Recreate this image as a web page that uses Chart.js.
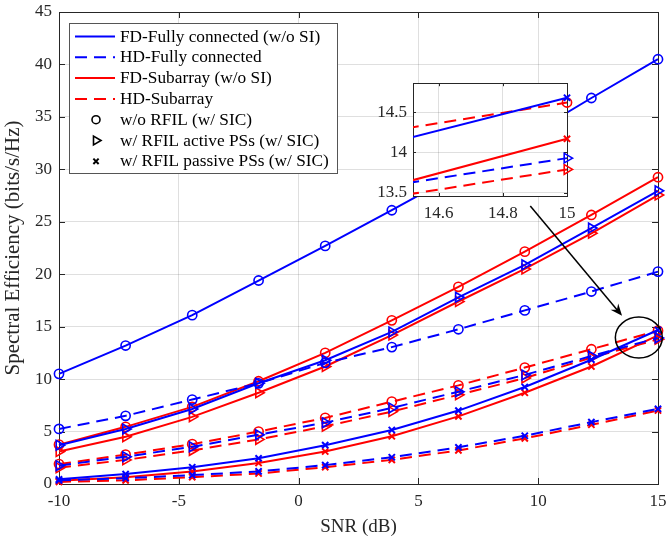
<!DOCTYPE html>
<html>
<head>
<meta charset="utf-8">
<script src="https://cdn.jsdelivr.net/npm/chart.js@4.4.1/dist/chart.umd.min.js"></script>
<style>
  html, body { margin: 0; padding: 0; background: #fff; }
  #wrap { position: relative; width: 667px; height: 543px; }
  #mainChart { position: absolute; left: 0; top: 0; }
  #insetChart { position: absolute; left: 366px; top: 76px; }
</style>
</head>
<body>
<div id="wrap">
  <canvas id="mainChart" width="667" height="543"></canvas>
  <canvas id="insetChart" width="212" height="160"></canvas>
</div>
<script>
// SNR sample points (dB)
const snr = [-10, -7.22, -4.44, -1.67, 1.11, 3.89, 6.67, 9.44, 12.22, 15];

// spectral efficiency (bits/s/Hz)
const fdFullNoRfil  = [10.5, 13.2, 16.1, 19.4, 22.7, 26.1, 29.6, 33.0, 36.8, 40.5];
const fdFullActive  = [3.7, 5.25, 7.15, 9.6, 11.8, 14.5, 17.8, 20.9, 24.4, 27.95];
const fdFullPassive = [0.45, 0.95, 1.6, 2.45, 3.7, 5.15, 7.0, 9.25, 11.85, 14.68];
const hdFullNoRfil  = [5.25, 6.5, 8.05, 9.6, 11.55, 13.05, 14.75, 16.55, 18.35, 20.25];
const hdFullActive  = [1.75, 2.6, 3.55, 4.7, 5.85, 7.25, 8.8, 10.4, 12.2, 13.93];
const hdFullPassive = [0.35, 0.55, 0.85, 1.2, 1.8, 2.55, 3.5, 4.6, 5.9, 7.17];
const fdSubNoRfil   = [3.75, 5.45, 7.35, 9.8, 12.5, 15.6, 18.8, 22.15, 25.65, 29.25];
const fdSubActive   = [3.1, 4.5, 6.4, 8.7, 11.2, 14.2, 17.4, 20.5, 23.9, 27.55];
const fdSubPassive  = [0.3, 0.65, 1.2, 2.0, 3.1, 4.55, 6.45, 8.7, 11.2, 14.17];
const hdSubNoRfil   = [1.9, 2.8, 3.8, 5.0, 6.3, 7.85, 9.4, 11.1, 12.85, 14.62];
const hdSubActive   = [1.55, 2.3, 3.2, 4.25, 5.5, 6.9, 8.5, 10.1, 12.05, 13.79];
const hdSubPassive  = [0.2, 0.35, 0.65, 1.0, 1.6, 2.3, 3.2, 4.35, 5.65, 7.01];

const legendLabels = [
  "FD-Fully connected (w/o SI)",
  "HD-Fully connected",
  "FD-Subarray (w/o SI)",
  "HD-Subarray",
  "w/o RFIL (w/ SIC)",
  "w/ RFIL active PSs (w/ SIC)",
  "w/ RFIL passive PSs (w/ SIC)"
];

const xTicks = [-10, -5, 0, 5, 10, 15];
const yTicks = [0, 5, 10, 15, 20, 25, 30, 35, 40, 45];
const insetXTicks = [14.6, 14.8, 15];
const insetYTicks = [13.5, 14, 14.5];

// arch: 0 FD-full, 1 HD-full, 2 FD-sub, 3 HD-sub ; mark: 0 w/o RFIL, 1 active, 2 passive
const series = [
  { values: fdFullNoRfil, arch: 0, mark: 0 },
  { values: fdFullActive, arch: 0, mark: 1 },
  { values: fdFullPassive, arch: 0, mark: 2 },
  { values: hdFullNoRfil, arch: 1, mark: 0 },
  { values: hdFullActive, arch: 1, mark: 1 },
  { values: hdFullPassive, arch: 1, mark: 2 },
  { values: fdSubNoRfil, arch: 2, mark: 0 },
  { values: fdSubActive, arch: 2, mark: 1 },
  { values: fdSubPassive, arch: 2, mark: 2 },
  { values: hdSubNoRfil, arch: 3, mark: 0 },
  { values: hdSubActive, arch: 3, mark: 1 },
  { values: hdSubPassive, arch: 3, mark: 2 }
];

const BLUE = "#0000ff";
const RED = "#ff0000";
const DASH = [12, 7];
const archStyle = [
  { color: BLUE, dash: [] },
  { color: BLUE, dash: DASH },
  { color: RED, dash: [] },
  { color: RED, dash: DASH }
];
const markStyle = [
  { pointStyle: "circle", radius: 4.6, rotation: 0, width: 1.6 },
  { pointStyle: "triangle", radius: 5.6, rotation: 90, width: 1.6 },
  { pointStyle: "crossRot", radius: 4.4, rotation: 0, width: 2 }
];

const FONT = "'Liberation Serif', 'Times New Roman', serif";
const AXIS_COLOR = "#262626";
const GRID_COLOR = "rgba(38,38,38,0.15)";

function makeDatasets(clip) {
  return series.map(s => {
    const a = archStyle[s.arch];
    const m = markStyle[s.mark];
    return {
      data: snr.map((x, i) => ({ x: x, y: s.values[i] })),
      borderColor: a.color,
      borderWidth: 2,
      borderDash: a.dash,
      pointStyle: m.pointStyle,
      pointRadius: m.radius,
      pointRotation: m.rotation,
      pointBorderWidth: m.width,
      pointBorderColor: a.color,
      pointBackgroundColor: "rgba(0,0,0,0)",
      tension: 0,
      fill: false,
      clip: clip
    };
  });
}

// no extra label padding, layout padding decides the plot box
function noPadX(s, h) { s.height = h; s.paddingLeft = 0; s.paddingRight = 0; }
function noPadY(s, w) { s.width = w; s.paddingTop = 0; s.paddingBottom = 0; }

// box around plot area with inward ticks (matlab look)
function frameAndTicks(chart, len) {
  const ctx = chart.ctx;
  const a = chart.chartArea;
  const xs = chart.scales.x, ys = chart.scales.y;
  ctx.save();
  ctx.strokeStyle = AXIS_COLOR;
  ctx.lineWidth = 1;
  ctx.setLineDash([]);
  ctx.strokeRect(Math.round(a.left) + 0.5, Math.round(a.top) + 0.5,
    Math.round(a.right - a.left), Math.round(a.bottom - a.top));
  ctx.beginPath();
  xs.ticks.forEach(t => {
    const px = Math.round(xs.getPixelForValue(t.value)) + 0.5;
    ctx.moveTo(px, a.bottom); ctx.lineTo(px, a.bottom - len);
    ctx.moveTo(px, a.top); ctx.lineTo(px, a.top + len);
  });
  ys.ticks.forEach(t => {
    const py = Math.round(ys.getPixelForValue(t.value)) + 0.5;
    ctx.moveTo(a.left, py); ctx.lineTo(a.left + len, py);
    ctx.moveTo(a.right, py); ctx.lineTo(a.right - len, py);
  });
  ctx.stroke();
  ctx.restore();
}

const mainFrame = {
  id: "mainFrame",
  beforeDatasetsDraw(chart) { frameAndTicks(chart, 6); }
};

// zoom marker: ellipse around the 15 dB cluster and arrow from the inset
const zoomMark = { cx: 14.2, cy: 13.96, rx: 0.98, ry: 1.95, fromX: 9.67, fromY: 26.5, toX: 13.5, toY: 16.03 };

const annotations = {
  id: "annotations",
  afterDraw(chart) {
    const ctx = chart.ctx;
    const xs = chart.scales.x, ys = chart.scales.y;
    ctx.save();
    ctx.strokeStyle = "#000";
    ctx.fillStyle = "#000";
    ctx.lineWidth = 1.5;
    ctx.setLineDash([]);
    const cx = xs.getPixelForValue(zoomMark.cx), cy = ys.getPixelForValue(zoomMark.cy);
    const rx = xs.getPixelForValue(zoomMark.cx + zoomMark.rx) - cx;
    const ry = cy - ys.getPixelForValue(zoomMark.cy + zoomMark.ry);
    ctx.beginPath();
    ctx.ellipse(cx, cy, rx, ry, 0, 0, Math.PI * 2);
    ctx.stroke();

    const x0 = xs.getPixelForValue(zoomMark.fromX), y0 = ys.getPixelForValue(zoomMark.fromY);
    const x1 = xs.getPixelForValue(zoomMark.toX), y1 = ys.getPixelForValue(zoomMark.toY);
    const ang = Math.atan2(y1 - y0, x1 - x0);
    const hl = 12, hw = 5;
    const bx = x1 - Math.cos(ang) * hl, by = y1 - Math.sin(ang) * hl;
    ctx.beginPath();
    ctx.moveTo(x0, y0);
    ctx.lineTo(x1 - Math.cos(ang) * 4, y1 - Math.sin(ang) * 4);
    ctx.stroke();
    ctx.beginPath();
    ctx.moveTo(x1, y1);
    ctx.lineTo(bx - Math.sin(ang) * hw, by + Math.cos(ang) * hw);
    ctx.lineTo(x1 - Math.cos(ang) * 8, y1 - Math.sin(ang) * 8);
    ctx.lineTo(bx + Math.sin(ang) * hw, by - Math.cos(ang) * hw);
    ctx.closePath();
    ctx.fill();

    // legend box
    const L = chart.chartArea.left, T = chart.chartArea.top;
    const box = { x: L + 10, y: T + 11, w: 268, h: 150 };
    ctx.fillStyle = "#fff";
    ctx.fillRect(box.x, box.y, box.w, box.h);
    ctx.strokeStyle = "#555";
    ctx.lineWidth = 1;
    ctx.strokeRect(Math.round(box.x) + 0.5, Math.round(box.y) + 0.5, box.w, box.h);
    ctx.font = "17.3px " + FONT;
    ctx.textBaseline = "middle";
    ctx.textAlign = "left";
    const rowH = 20.8;
    legendLabels.forEach((label, i) => {
      const y = box.y + 13.5 + i * rowH;
      if (i < 4) {
        const st = archStyle[i];
        ctx.strokeStyle = st.color;
        ctx.lineWidth = 2;
        ctx.setLineDash(st.dash);
        ctx.beginPath();
        ctx.moveTo(box.x + 6, y);
        ctx.lineTo(box.x + 46, y);
        ctx.stroke();
        ctx.setLineDash([]);
      } else {
        const m = markStyle[i - 4];
        const mx = box.x + 27;
        ctx.strokeStyle = "#000";
        ctx.lineWidth = m.width;
        ctx.beginPath();
        if (m.pointStyle === "circle") {
          ctx.arc(mx, y, m.radius - 0.6, 0, Math.PI * 2);
        } else if (m.pointStyle === "triangle") {
          const r = m.radius - 0.6;
          ctx.moveTo(mx + r, y);
          ctx.lineTo(mx - r / 2, y - r * 0.866);
          ctx.lineTo(mx - r / 2, y + r * 0.866);
          ctx.closePath();
        } else {
          const r = m.radius * 0.6;
          ctx.moveTo(mx - r, y - r); ctx.lineTo(mx + r, y + r);
          ctx.moveTo(mx + r, y - r); ctx.lineTo(mx - r, y + r);
        }
        ctx.stroke();
      }
      ctx.fillStyle = "#000";
      ctx.fillText(label, box.x + 51, y + 0.5);
    });
    ctx.restore();
  }
};

new Chart(document.getElementById("mainChart"), {
  type: "line",
  data: { datasets: makeDatasets(false) },
  options: {
    responsive: false,
    animation: false,
    devicePixelRatio: 1,
    layout: { padding: { left: 0, right: 9, top: 12, bottom: 0 } },
    plugins: { legend: { display: false }, tooltip: { enabled: false } },
    scales: {
      x: {
        type: "linear",
        min: -10,
        max: 15,
        afterBuildTicks: s => { s.ticks = xTicks.map(v => ({ value: v })); },
        afterFit: s => noPadX(s, 59),
        grid: { color: GRID_COLOR, drawTicks: false },
        border: { display: false },
        ticks: { font: { family: FONT, size: 17 }, color: AXIS_COLOR, padding: 7, maxRotation: 0 },
        title: { display: true, text: "SNR (dB)", font: { family: FONT, size: 19 }, color: AXIS_COLOR, padding: { top: 0, bottom: 5 } }
      },
      y: {
        type: "linear",
        min: 0,
        max: 45,
        afterBuildTicks: s => { s.ticks = yTicks.map(v => ({ value: v })); },
        afterFit: s => noPadY(s, 59),
        grid: { color: GRID_COLOR, drawTicks: false },
        border: { display: false },
        ticks: { font: { family: FONT, size: 17 }, color: AXIS_COLOR, padding: 7 },
        title: { display: true, text: "Spectral Efficiency (bits/s/Hz)", font: { family: FONT, size: 21 }, color: AXIS_COLOR, padding: { top: 1, bottom: 0 } }
      }
    }
  },
  plugins: [mainFrame, annotations]
});

const insetBg = {
  id: "insetBg",
  beforeDraw(chart) {
    const a = chart.chartArea;
    chart.ctx.save();
    chart.ctx.fillStyle = "#fff";
    chart.ctx.fillRect(a.left, a.top, a.right - a.left, a.bottom - a.top);
    chart.ctx.restore();
  },
  beforeDatasetsDraw(chart) { frameAndTicks(chart, 3); }
};

new Chart(document.getElementById("insetChart"), {
  type: "line",
  data: { datasets: makeDatasets({ left: 0, top: 0, right: 8, bottom: 0 }) },
  options: {
    responsive: false,
    animation: false,
    devicePixelRatio: 1,
    layout: { padding: { left: 0, right: 11, top: 7, bottom: 0 } },
    plugins: { legend: { display: false }, tooltip: { enabled: false } },
    scales: {
      x: {
        type: "linear",
        min: 14.52,
        max: 15,
        afterBuildTicks: s => { s.ticks = insetXTicks.map(v => ({ value: v })); },
        afterFit: s => noPadX(s, 40),
        grid: { color: GRID_COLOR, drawTicks: false },
        border: { display: false },
        ticks: { font: { family: FONT, size: 17 }, color: AXIS_COLOR, padding: 7, maxRotation: 0, callback: v => String(v) }
      },
      y: {
        type: "linear",
        min: 13.46,
        max: 14.86,
        afterBuildTicks: s => { s.ticks = insetYTicks.map(v => ({ value: v })); },
        afterFit: s => noPadY(s, 47),
        grid: { color: GRID_COLOR, drawTicks: false },
        border: { display: false },
        ticks: { font: { family: FONT, size: 17 }, color: AXIS_COLOR, padding: 6, callback: v => String(v) }
      }
    }
  },
  plugins: [insetBg]
});
</script>
</body>
</html>
